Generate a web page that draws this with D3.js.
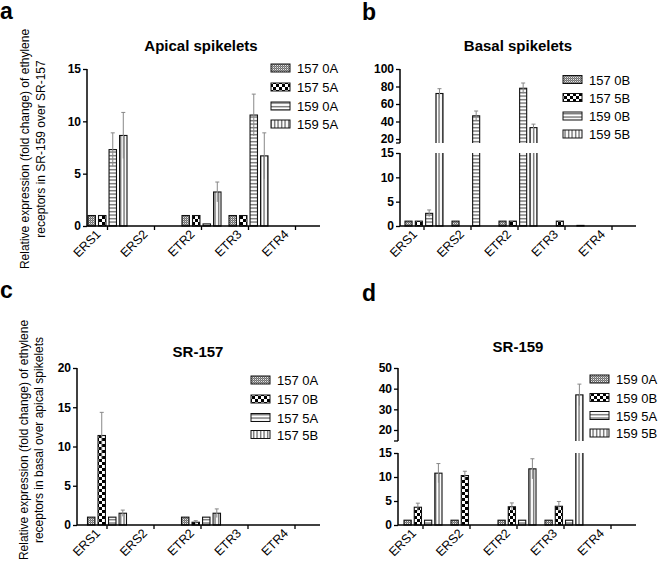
<!DOCTYPE html>
<html><head><meta charset="utf-8">
<script src="https://cdn.jsdelivr.net/npm/d3@7"></script>
<style>body{margin:0;background:#fff} svg{display:block} text{font-family:"Liberation Sans",Arial,sans-serif;fill:#000}</style>
</head><body><svg id="chart" width="660" height="585"></svg>
<script>
// ---------- DATA ----------
const categories = ["ERS1", "ERS2", "ETR2", "ETR3", "ETR4"];

// Panel a: Apical spikelets (rows = categories, cols = series)
const seriesA = ["157 0A", "157 5A", "159 0A", "159 5A"];
const valuesA = [[1, 1, 7.3, 8.65], [0, 0, 0, 0], [1, 1, 0.2, 3.25], [1, 1, 10.6, 6.7], [0, 0, 0, 0]];
const errorsA = [[0, 0, 1.6, 2.2], [0, 0, 0, 0], [0, 0, 0, 0.95], [0, 0, 2.0, 2.2], [0, 0, 0, 0]];
const ticksA = [0, 5, 10, 15];

// Panel b: Basal spikelets
const seriesB = ["157 0B", "157 5B", "159 0B", "159 5B"];
const valuesB = [[1, 1, 2.6, 72], [1, 0, 46.5, 0], [1, 1, 78, 33], [0, 1, 0, 0.12], [0, 0, 0, 0]];
const errorsB = [[0, 0, 0.7, 5.5], [0, 0, 5.5, 0], [0, 0, 6, 4], [0, 0, 0, 0], [0, 0, 0, 0]];
const ticksBLow = [0, 5, 10, 15];
const ticksBHigh = [20, 40, 60, 80, 100];

// Panel c: SR-157
const seriesC = ["157 0A", "157 0B", "157 5A", "157 5B"];
const valuesC = [[1, 11.4, 1, 1.5], [0, 0, 0, 0], [1, 0.35, 1, 1.5], [0, 0, 0, 0], [0, 0, 0, 0]];
const errorsC = [[0, 2.95, 0, 0.4], [0, 0, 0, 0], [0, 0.2, 0, 0.55], [0, 0, 0, 0], [0, 0, 0, 0]];
const ticksC = [0, 5, 10, 15, 20];

// Panel d: SR-159
const seriesD = ["159 0A", "159 0B", "159 5A", "159 5B"];
const valuesD = [[1, 3.7, 1, 10.8], [1, 10.3, 0, 0], [1, 3.8, 1, 11.7], [1, 3.9, 1, 37], [0, 0, 0, 0]];
const errorsD = [[0, 0.85, 0, 2.0], [0, 0.9, 0, 0], [0, 0.8, 0, 2.1], [0, 1.0, 0, 5.2], [0, 0, 0, 0]];
const ticksDLow = [0, 5, 10, 15];
const ticksDHigh = [20, 30, 40, 50];

// ---------- DRAWING ----------
const svg = d3.select("#chart");
const defs = svg.append("defs");

// patterns
(function () {
  let p = defs.append("pattern").attr("id", "p0").attr("patternUnits", "userSpaceOnUse").attr("width", 2).attr("height", 2);
  p.append("rect").attr("width", 2).attr("height", 2).attr("fill", "#6e6e6e");
  p.append("rect").attr("x", 1).attr("y", 1).attr("width", 1).attr("height", 1).attr("fill", "#e8e8e8");
  p.append("rect").attr("x", 0).attr("y", 0).attr("width", 1).attr("height", 1).attr("fill", "#9a9a9a");

  p = defs.append("pattern").attr("id", "p1").attr("patternUnits", "userSpaceOnUse").attr("width", 6).attr("height", 6);
  p.append("rect").attr("width", 6).attr("height", 6).attr("fill", "#fff");
  p.append("rect").attr("width", 3).attr("height", 3).attr("fill", "#000");
  p.append("rect").attr("x", 3).attr("y", 3).attr("width", 3).attr("height", 3).attr("fill", "#000");

  p = defs.append("pattern").attr("id", "p2").attr("patternUnits", "userSpaceOnUse").attr("width", 4).attr("height", 3.5);
  p.append("rect").attr("width", 4).attr("height", 3.5).attr("fill", "#fff");
  p.append("rect").attr("y", 1.2).attr("width", 4).attr("height", 0.9).attr("fill", "#222");

  p = defs.append("pattern").attr("id", "p3").attr("patternUnits", "userSpaceOnUse").attr("width", 3.5).attr("height", 4);
  p.append("rect").attr("width", 3.5).attr("height", 4).attr("fill", "#fff");
  p.append("rect").attr("x", 1.2).attr("width", 0.9).attr("height", 4).attr("fill", "#222");
})();
const fills = ["url(#p0)", "url(#p1)", "url(#p2)", "url(#p3)"];

let clipCount = 0;

function panel(cfg) {
  const g = svg.append("g");
  const x = d3.scaleBand().domain(categories).range(cfg.xRange);
  const inner = d3.scaleBand().domain(d3.range(4)).range([-cfg.groupW / 2, cfg.groupW / 2]).paddingInner(cfg.padInner);
  const y0pix = cfg.segments[0].range[0];

  cfg.segments.forEach(s => {
    const y = d3.scaleLinear().domain(s.domain).range(s.range);
    const id = "clip" + (clipCount++);
    g.append("clipPath").attr("id", id).append("rect")
      .attr("x", 0).attr("y", s.clip[0]).attr("width", 660).attr("height", s.clip[1] - s.clip[0]);
    const bg = g.append("g").attr("clip-path", `url(#${id})`);

    cfg.values.forEach((row, ci) => row.forEach((v, k) => {
      if (v <= 0) return;
      if (s.domain[0] > 0 && v <= s.domain[0]) return;
      const bx = x(categories[ci]) + x.bandwidth() / 2 + inner(k);
      const top = v > s.domain[1] ? s.clip[0] - 6 : y(v);
      const bottom = s.domain[0] > 0 ? s.clip[1] + 6 : y(0);
      bg.append("rect").attr("x", bx + 0.5).attr("y", top).attr("width", inner.bandwidth() - 1)
        .attr("height", Math.max(bottom - top, 0.5))
        .attr("fill", fills[k]).attr("stroke", "#111").attr("stroke-width", 1.1);
      const e = cfg.errors[ci][k];
      if (e > 0 && v <= s.domain[1]) {
        const cx = bx + inner.bandwidth() / 2;
        bg.append("line").attr("x1", cx).attr("x2", cx).attr("y1", y(v + e)).attr("y2", y(Math.max(v - e, 0)))
          .attr("stroke", "#888").attr("stroke-width", 1);
        bg.append("line").attr("x1", cx - 2).attr("x2", cx + 2).attr("y1", y(v + e)).attr("y2", y(v + e))
          .attr("stroke", "#888").attr("stroke-width", 1);
      }
    }));

    // y axis segment
    const ax = g.append("g").attr("transform", `translate(${cfg.axisX},0)`)
      .call(d3.axisLeft(y).tickValues(s.ticks).tickSize(4).tickPadding(2).tickFormat(d3.format("d")));
    ax.select(".domain").remove();
    ax.selectAll(".tick line").attr("stroke", "#000").attr("stroke-width", 1.3);
    ax.selectAll(".tick text").attr("font-size", 12).attr("font-weight", "bold")
      .attr("font-family", '"Liberation Sans",Arial,sans-serif');
    g.append("line").attr("x1", cfg.axisX).attr("x2", cfg.axisX)
      .attr("y1", y(s.domain[1])).attr("y2", s.axisBottom)
      .attr("stroke", "#000").attr("stroke-width", 1.5);
    if (s.stub) {
      g.append("line").attr("x1", cfg.axisX - 4).attr("x2", cfg.axisX)
        .attr("y1", s.axisBottom).attr("y2", s.axisBottom).attr("stroke", "#000").attr("stroke-width", 1.3);
    }
  });

  // x axis
  g.append("line").attr("x1", cfg.axisX).attr("x2", cfg.xEnd).attr("y1", y0pix).attr("y2", y0pix)
    .attr("stroke", "#000").attr("stroke-width", 1.5);
  categories.forEach(c => {
    const cx = x(c) + x.bandwidth() / 2;
    g.append("line").attr("x1", cx).attr("x2", cx).attr("y1", y0pix).attr("y2", y0pix + 4)
      .attr("stroke", "#000").attr("stroke-width", 1.3);
    g.append("text").attr("transform", `translate(${cx - 6},${y0pix + 9}) rotate(-45)`)
      .attr("text-anchor", "end").attr("font-size", 12.5).text(c);
  });

  // title
  g.append("text").attr("x", cfg.titleX).attr("y", cfg.titleY).attr("text-anchor", "middle")
    .attr("font-size", 15).attr("font-weight", "bold").text(cfg.title);

  // legend
  cfg.series.forEach((name, k) => {
    const ly = cfg.legY[k];
    g.append("rect").attr("x", cfg.legX).attr("y", ly - 4).attr("width", 19).attr("height", 8)
      .attr("fill", fills[k]).attr("stroke", "#111").attr("stroke-width", 1);
    g.append("text").attr("x", cfg.legX + 26).attr("y", ly + 5).attr("font-size", 13).text(name);
  });

  // panel letter
  svg.append("text").attr("x", cfg.letterX).attr("y", cfg.letterY).attr("font-size", 23)
    .attr("font-weight", "bold").attr("font-family", '"Open Sans","Liberation Sans",sans-serif').text(cfg.letter);
}

panel({
  letter: "a", letterX: 0, letterY: 19,
  title: "Apical spikelets", titleX: 201, titleY: 51,
  series: seriesA, values: valuesA, errors: errorsA,
  xRange: [84, 319], groupW: 40, padInner: 0.2, axisX: 87, xEnd: 320,
  segments: [{ domain: [0, 15], range: [226, 69], clip: [60, 240], ticks: ticksA, axisBottom: 226 }],
  legX: 271, legY: [68, 87, 106, 124]
});
panel({
  letter: "b", letterX: 362, letterY: 20,
  title: "Basal spikelets", titleX: 518, titleY: 51,
  series: seriesB, values: valuesB, errors: errorsB,
  xRange: [400.5, 635.5], groupW: 39, padInner: 0.22, axisX: 400, xEnd: 636,
  segments: [
    { domain: [0, 15], range: [226, 153], clip: [153, 240], ticks: ticksBLow, axisBottom: 226 },
    { domain: [20, 100], range: [139, 69], clip: [60, 143], ticks: ticksBHigh, axisBottom: 143, stub: true }
  ],
  legX: 563, legY: [79.5, 97.5, 116, 134]
});
panel({
  letter: "c", letterX: 0, letterY: 298,
  title: "SR-157", titleX: 198, titleY: 357,
  series: seriesC, values: valuesC, errors: errorsC,
  xRange: [83.5, 318.5], groupW: 40, padInner: 0.2, axisX: 77, xEnd: 320,
  segments: [{ domain: [0, 20], range: [525, 368], clip: [360, 540], ticks: ticksC, axisBottom: 525 }],
  legX: 251, legY: [380, 399, 417.5, 434.5]
});
panel({
  letter: "d", letterX: 362, letterY: 301,
  title: "SR-159", titleX: 518, titleY: 352,
  series: seriesD, values: valuesD, errors: errorsD,
  xRange: [399.5, 634.5], groupW: 39, padInner: 0.2, axisX: 398, xEnd: 636,
  segments: [
    { domain: [0, 15], range: [525, 453], clip: [453, 540], ticks: ticksDLow, axisBottom: 525 },
    { domain: [20, 50], range: [430, 368], clip: [360, 441], ticks: ticksDHigh, axisBottom: 441, stub: true }
  ],
  legX: 590, legY: [379, 397.5, 415.5, 433]
});

// y-axis titles
function ylab(cx1, cx2, cy, l1, l2) {
  svg.append("text").attr("transform", `translate(${cx1},${cy}) rotate(-90)`).attr("text-anchor", "middle")
    .attr("font-size", 12).text(l1);
  svg.append("text").attr("transform", `translate(${cx2},${cy}) rotate(-90)`).attr("text-anchor", "middle")
    .attr("font-size", 12).text(l2);
}
ylab(29, 45, 149, "Relative expression (fold change) of ethylene", "receptors in SR-159 over SR-157");
ylab(28, 43, 440, "Relative expression (fold change) of ethylene", "receptors in basal over apical spikelets");
</script></body></html>
